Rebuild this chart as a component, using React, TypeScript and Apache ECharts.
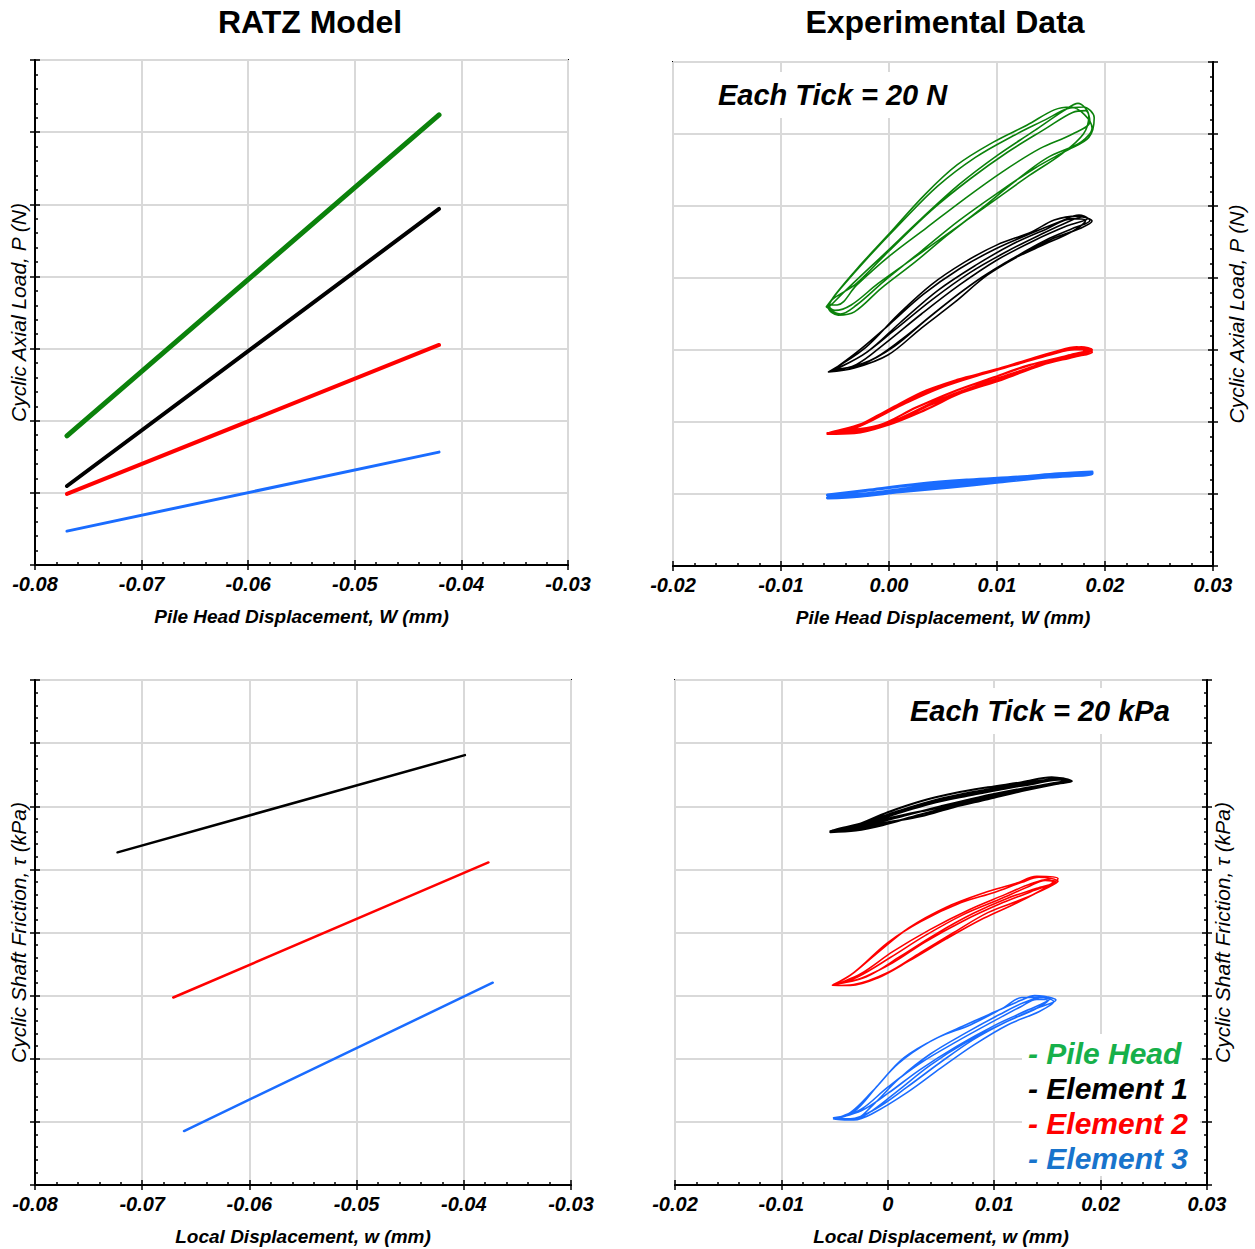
import React, { useEffect, useRef } from 'react';
import * as echarts from 'echarts';

const FONT = '"Liberation Sans", Arial, Helvetica, sans-serif';

// ---------- tick labels ----------
const modelXTicks = ['-0.08', '-0.07', '-0.06', '-0.05', '-0.04', '-0.03'];
const expHeadXTicks = ['-0.02', '-0.01', '0.00', '0.01', '0.02', '0.03'];
const expLocalXTicks = ['-0.02', '-0.01', '0', '0.01', '0.02', '0.03'];
const loadTicks = [0, 20, 40, 60, 80, 100, 120, 140]; // Each tick = 20 N
const frictionTicks = [0, 20, 40, 60, 80, 100, 120, 140, 160]; // Each tick = 20 kPa

// ---------- RATZ model (pile head displacement vs axial load) ----------
const ratzLoadPileHead = [[-0.0770, 35.8], [-0.0421, 124.8]];
const ratzLoadElement1 = [[-0.0770, 21.9], [-0.0421, 98.7]];
const ratzLoadElement2 = [[-0.0770, 19.7], [-0.0421, 61.0]];
const ratzLoadElement3 = [[-0.0770, 9.4], [-0.0421, 31.3]];

// ---------- RATZ model (local displacement vs shaft friction) ----------
const ratzShaftElement1 = [[-0.0723, 105.4], [-0.0399, 136.2]];
const ratzShaftElement2 = [[-0.0671, 59.4], [-0.0377, 102.2]];
const ratzShaftElement3 = [[-0.0661, 17.1], [-0.0373, 64.1]];

// ---------- Experimental (pile head displacement vs axial load), cycles ----------
const expLoadPileHead = [
  [[-0.0057, 71.9], [-0.0050, 75.3], [-0.0029, 82.8], [-0.0001, 91.9], [0.0033, 103.1], [0.0063, 111.4], [0.0097, 117.8], [0.0128, 122.5], [0.0153, 126.7], [0.0168, 127.5], [0.0188, 121.7], [0.0178, 117.8], [0.0146, 113.3], [0.0116, 106.7], [0.0086, 99.4], [0.0054, 91.9], [0.0024, 84.4], [-0.0007, 77.2], [-0.0032, 70.6], [-0.0047, 69.7], [-0.0056, 71.7]],
  [[-0.0052, 73.0], [-0.0035, 78.0], [-0.0005, 86.5], [0.0030, 96.5], [0.0065, 106.0], [0.0100, 114.0], [0.0135, 121.0], [0.0162, 126.5], [0.0175, 128.5], [0.0185, 125.0], [0.0180, 120.0], [0.0160, 114.5], [0.0130, 108.5], [0.0095, 101.0], [0.0060, 93.5], [0.0025, 86.0], [-0.0010, 78.5], [-0.0035, 72.5], [-0.0050, 71.0], [-0.0055, 72.0]],
  [[-0.0055, 72.5], [-0.0030, 78.5], [0.0000, 87.5], [0.0040, 99.0], [0.0075, 107.5], [0.0110, 115.0], [0.0145, 121.5], [0.0170, 126.0], [0.0182, 126.5], [0.0186, 123.5], [0.0170, 120.0], [0.0140, 116.0], [0.0105, 109.5], [0.0070, 102.0], [0.0035, 94.0], [0.0000, 86.0], [-0.0030, 78.0], [-0.0048, 72.5], [-0.0055, 72.5]],
  [[-0.0058, 72.0], [-0.0045, 77.0], [-0.0020, 85.5], [0.0010, 95.0], [0.0045, 105.5], [0.0080, 113.5], [0.0115, 119.5], [0.0145, 124.0], [0.0165, 127.0], [0.0180, 127.5], [0.0190, 124.5], [0.0185, 119.0], [0.0165, 115.5], [0.0135, 110.5], [0.0100, 103.5], [0.0065, 96.0], [0.0030, 87.5], [-0.0005, 79.0], [-0.0030, 72.5], [-0.0045, 70.0], [-0.0058, 72.0]],
];
const expLoadElement1 = [
  [[-0.0056, 53.9], [-0.0022, 60.6], [0.0008, 69.7], [0.0039, 78.1], [0.0070, 84.4], [0.0100, 89.2], [0.0132, 92.8], [0.0153, 96.1], [0.0174, 97.2], [0.0188, 95.8], [0.0178, 93.9], [0.0153, 91.1], [0.0122, 86.4], [0.0091, 80.8], [0.0061, 73.3], [0.0030, 66.1], [-0.0001, 58.6], [-0.0032, 55.0], [-0.0056, 53.9]],
  [[-0.0050, 54.5], [-0.0020, 59.5], [0.0010, 67.5], [0.0045, 76.5], [0.0080, 83.5], [0.0115, 89.5], [0.0145, 93.5], [0.0170, 96.5], [0.0182, 96.0], [0.0170, 93.0], [0.0140, 88.8], [0.0105, 83.8], [0.0070, 76.8], [0.0035, 68.5], [0.0005, 61.0], [-0.0025, 56.0], [-0.0050, 54.5]],
  [[-0.0055, 54.0], [-0.0025, 58.5], [0.0005, 65.5], [0.0040, 74.0], [0.0075, 81.5], [0.0110, 87.5], [0.0140, 92.0], [0.0165, 95.5], [0.0180, 97.0], [0.0186, 96.0], [0.0172, 94.0], [0.0145, 90.5], [0.0115, 85.5], [0.0080, 79.0], [0.0045, 71.0], [0.0012, 63.0], [-0.0018, 57.0], [-0.0055, 54.0]],
  [[-0.0053, 54.2], [-0.0028, 59.8], [0.0000, 67.0], [0.0032, 75.5], [0.0065, 82.5], [0.0098, 88.0], [0.0130, 92.2], [0.0158, 95.6], [0.0176, 97.5], [0.0184, 96.6], [0.0165, 94.5], [0.0135, 90.5], [0.0100, 85.0], [0.0065, 78.0], [0.0030, 70.0], [-0.0005, 61.5], [-0.0030, 56.0], [-0.0053, 54.2]],
];
const expLoadElement2 = [
  [[-0.0057, 36.9], [-0.0032, 38.3], [-0.0001, 42.8], [0.0030, 48.1], [0.0063, 51.7], [0.0097, 54.4], [0.0128, 57.2], [0.0153, 59.4], [0.0174, 60.8], [0.0188, 59.4], [0.0171, 58.1], [0.0141, 55.8], [0.0104, 51.7], [0.0067, 48.1], [0.0033, 43.3], [-0.0001, 39.2], [-0.0032, 36.9], [-0.0057, 36.7]],
  [[-0.0055, 37.0], [-0.0025, 39.5], [0.0005, 43.8], [0.0040, 48.8], [0.0075, 52.5], [0.0110, 55.5], [0.0140, 58.0], [0.0165, 60.2], [0.0182, 60.5], [0.0178, 59.0], [0.0150, 57.0], [0.0115, 53.5], [0.0080, 50.0], [0.0045, 46.0], [0.0010, 41.0], [-0.0020, 37.8], [-0.0055, 37.0]],
  [[-0.0050, 37.2], [-0.0020, 40.0], [0.0015, 45.2], [0.0050, 49.8], [0.0085, 53.2], [0.0120, 56.2], [0.0150, 58.8], [0.0172, 60.2], [0.0185, 60.0], [0.0165, 58.4], [0.0130, 55.8], [0.0095, 52.2], [0.0060, 48.5], [0.0025, 44.0], [-0.0010, 39.0], [-0.0050, 37.2]],
  [[-0.0056, 36.8], [-0.0030, 38.8], [0.0000, 43.5], [0.0035, 48.8], [0.0070, 52.2], [0.0105, 55.0], [0.0135, 57.8], [0.0160, 59.8], [0.0178, 60.8], [0.0188, 60.0], [0.0175, 58.5], [0.0145, 56.3], [0.0110, 52.8], [0.0075, 49.2], [0.0040, 45.0], [0.0005, 40.2], [-0.0028, 37.3], [-0.0056, 36.8]],
];
const expLoadElement3 = [
  [[-0.0057, 19.7], [-0.0018, 21.1], [0.0028, 22.8], [0.0074, 23.9], [0.0120, 24.7], [0.0157, 25.6], [0.0188, 26.1], [0.0188, 25.6], [0.0148, 24.7], [0.0102, 23.3], [0.0056, 21.9], [0.0010, 20.6], [-0.0027, 19.4], [-0.0057, 18.9]],
  [[-0.0055, 19.2], [-0.0015, 20.3], [0.0030, 22.0], [0.0075, 23.4], [0.0120, 24.5], [0.0160, 25.3], [0.0186, 25.8], [0.0150, 25.0], [0.0105, 23.8], [0.0060, 22.5], [0.0015, 21.0], [-0.0025, 19.9], [-0.0055, 19.2]],
];

// ---------- Experimental (local displacement vs shaft friction), cycles ----------
const expShaftElement1 = [
  [[-0.0054, 112.1], [-0.0032, 113.7], [0.0000, 118.1], [0.0031, 121.6], [0.0062, 124.1], [0.0094, 126.0], [0.0126, 127.6], [0.0154, 129.2], [0.0173, 127.9], [0.0157, 127.0], [0.0126, 124.8], [0.0094, 122.2], [0.0062, 119.7], [0.0031, 116.8], [0.0000, 114.9], [-0.0032, 112.7], [-0.0054, 112.1]],
  [[-0.0050, 112.5], [-0.0020, 115.0], [0.0010, 118.5], [0.0045, 122.0], [0.0080, 124.5], [0.0115, 126.5], [0.0145, 128.2], [0.0165, 128.8], [0.0170, 128.0], [0.0145, 126.5], [0.0110, 124.0], [0.0075, 121.5], [0.0040, 119.0], [0.0005, 116.5], [-0.0025, 114.0], [-0.0050, 112.5]],
  [[-0.0052, 112.3], [-0.0025, 114.3], [0.0005, 117.3], [0.0040, 120.8], [0.0075, 123.3], [0.0110, 125.5], [0.0140, 127.5], [0.0160, 128.8], [0.0168, 128.3], [0.0150, 127.0], [0.0120, 125.2], [0.0085, 122.8], [0.0050, 120.0], [0.0015, 117.0], [-0.0020, 114.0], [-0.0052, 112.3]],
  [[-0.0054, 111.8], [-0.0030, 113.0], [0.0000, 116.8], [0.0035, 120.5], [0.0070, 123.3], [0.0105, 125.4], [0.0135, 127.0], [0.0160, 128.4], [0.0172, 128.2], [0.0160, 127.3], [0.0130, 125.5], [0.0100, 123.0], [0.0065, 120.3], [0.0030, 117.3], [-0.0005, 114.0], [-0.0030, 112.3], [-0.0054, 111.8]],
];
const expShaftElement2 = [
  [[-0.0051, 63.5], [-0.0032, 67.3], [0.0000, 76.8], [0.0031, 83.5], [0.0069, 89.5], [0.0100, 92.7], [0.0126, 95.9], [0.0142, 97.5], [0.0160, 96.2], [0.0151, 94.3], [0.0126, 90.5], [0.0094, 86.3], [0.0062, 80.0], [0.0031, 73.7], [0.0000, 67.3], [-0.0032, 63.5], [-0.0051, 63.2]],
  [[-0.0048, 63.6], [-0.0025, 67.0], [0.0005, 74.0], [0.0040, 81.0], [0.0075, 87.0], [0.0110, 92.0], [0.0135, 95.5], [0.0150, 96.8], [0.0155, 96.0], [0.0135, 93.0], [0.0105, 89.0], [0.0070, 83.5], [0.0035, 77.0], [0.0005, 70.5], [-0.0025, 65.5], [-0.0048, 63.6]],
  [[-0.0050, 63.4], [-0.0028, 66.0], [0.0002, 72.0], [0.0035, 79.0], [0.0070, 85.5], [0.0105, 90.5], [0.0132, 94.5], [0.0148, 96.5], [0.0158, 96.0], [0.0140, 94.0], [0.0112, 90.8], [0.0080, 86.0], [0.0045, 79.5], [0.0012, 72.5], [-0.0020, 66.0], [-0.0050, 63.4]],
  [[-0.0052, 63.3], [-0.0035, 66.5], [-0.0010, 73.5], [0.0020, 81.5], [0.0055, 88.0], [0.0090, 92.5], [0.0120, 95.5], [0.0140, 97.8], [0.0160, 97.0], [0.0150, 94.5], [0.0122, 89.5], [0.0090, 84.5], [0.0055, 78.0], [0.0020, 71.0], [-0.0010, 65.5], [-0.0035, 63.2], [-0.0052, 63.3]],
];
const expShaftElement3 = [
  [[-0.0051, 21.3], [-0.0032, 23.2], [-0.0009, 31.7], [0.0015, 40.3], [0.0047, 46.7], [0.0078, 50.8], [0.0109, 56.2], [0.0126, 59.4], [0.0142, 59.4], [0.0156, 58.1], [0.0142, 54.9], [0.0113, 50.8], [0.0081, 44.4], [0.0050, 37.1], [0.0019, 29.5], [-0.0013, 22.9], [-0.0032, 20.6], [-0.0051, 20.9]],
  [[-0.0048, 21.0], [-0.0025, 24.0], [0.0000, 31.0], [0.0030, 38.5], [0.0065, 45.5], [0.0100, 52.0], [0.0125, 56.5], [0.0140, 58.8], [0.0150, 58.5], [0.0132, 55.5], [0.0100, 50.5], [0.0065, 44.0], [0.0030, 36.5], [0.0000, 29.0], [-0.0025, 23.5], [-0.0048, 21.0]],
  [[-0.0032, 20.8], [-0.0015, 25.0], [0.0010, 33.5], [0.0040, 41.5], [0.0075, 48.5], [0.0105, 54.0], [0.0128, 57.8], [0.0148, 59.6], [0.0158, 58.6], [0.0140, 56.0], [0.0110, 51.5], [0.0075, 45.5], [0.0040, 38.0], [0.0010, 30.0], [-0.0015, 23.5], [-0.0032, 20.8]],
  [[-0.0050, 21.0], [-0.0035, 23.0], [-0.0015, 29.5], [0.0010, 38.5], [0.0040, 45.5], [0.0075, 51.0], [0.0105, 55.5], [0.0125, 58.5], [0.0138, 60.0], [0.0152, 59.0], [0.0140, 56.0], [0.0110, 51.5], [0.0080, 46.0], [0.0048, 38.5], [0.0018, 31.0], [-0.0012, 24.0], [-0.0035, 21.0], [-0.0050, 21.0]],
];

const legendItems = ['- Pile Head', '- Element 1', '- Element 2', '- Element 3'];

const GREEN = '#0b820b';
const BLACK = '#000000';
const RED = '#ff0000';
const BLUE = '#1a6cff';
const LEGEND_COLORS = ['#16b04a', '#000000', '#ff0000', '#1874cc'];

const grids = [
  { left: 35, top: 60, width: 533, height: 505 },
  { left: 673, top: 62, width: 540, height: 504 },
  { left: 35, top: 680, width: 536, height: 505 },
  { left: 675, top: 680, width: 532, height: 505 },
];

const flat = (cycles: number[][][]) => cycles.reduce((acc, c) => acc.concat(c), [] as number[][]);

function xAxes(gridIndex: number, labels: string[], name: string) {
  const min = parseFloat(labels[0]);
  const max = parseFloat(labels[labels.length - 1]);
  const main = {
    type: 'value', gridIndex, min, max, interval: 0.01, position: 'bottom',
    axisLine: { show: true, onZero: false, lineStyle: { color: '#000', width: 2 } },
    axisTick: { show: true, inside: true, length: 5, lineStyle: { color: '#000', width: 1.5 } },
    minorTick: { show: true, splitNumber: 5, length: 3, lineStyle: { color: '#000', width: 1.5 } },
    splitLine: { show: true, lineStyle: { color: '#d9d9d9', width: 2 } },
    axisLabel: {
      formatter: (_v: number, i: number) => labels[i],
      margin: 9, color: '#000', fontFamily: FONT, fontSize: 20, fontWeight: 'bold', fontStyle: 'italic',
    },
    name, nameLocation: 'middle', nameGap: 42,
    nameTextStyle: { color: '#000', fontFamily: FONT, fontSize: 19, fontWeight: 'bold', fontStyle: 'italic' },
  };
  const over = {
    type: 'value', gridIndex, min, max, interval: 0.01, position: 'bottom',
    axisLine: { show: false, onZero: false },
    axisTick: { show: true, inside: false, length: 5, lineStyle: { color: '#000', width: 1.5 } },
    axisLabel: { show: false }, splitLine: { show: false },
  };
  return [main, over];
}

function yAxes(gridIndex: number, ticks: number[], position: string, name: string, nameGap: number) {
  const min = ticks[0];
  const max = ticks[ticks.length - 1];
  const main = {
    type: 'value', gridIndex, min, max, interval: ticks[1] - ticks[0], position,
    axisLine: { show: true, onZero: false, lineStyle: { color: '#000', width: 2 } },
    axisTick: { show: true, inside: true, length: 5, lineStyle: { color: '#000', width: 1.5 } },
    minorTick: { show: true, splitNumber: 5, length: 3, lineStyle: { color: '#000', width: 1.5 } },
    splitLine: { show: true, lineStyle: { color: '#d9d9d9', width: 2 } },
    axisLabel: { show: false },
    name, nameLocation: 'middle', nameGap, nameRotate: 90,
    nameTextStyle: { color: '#000', fontFamily: FONT, fontSize: 21, fontStyle: 'italic' },
  };
  const over = {
    type: 'value', gridIndex, min, max, interval: ticks[1] - ticks[0], position,
    axisLine: { show: false, onZero: false },
    axisTick: { show: true, inside: false, length: 5, lineStyle: { color: '#000', width: 1.5 } },
    axisLabel: { show: false }, splitLine: { show: false },
  };
  return [main, over];
}

function line(idx: number, data: number[][], color: string, width: number, smooth: number | boolean) {
  return {
    type: 'line', xAxisIndex: idx, yAxisIndex: idx, data, showSymbol: false, symbol: 'none',
    smooth, silent: true, lineStyle: { color, width, cap: 'round', join: 'round' },
  };
}

export default function App() {
  const ref = useRef<HTMLDivElement>(null);
  useEffect(() => {
    if (!ref.current) return;
    const chart = echarts.init(ref.current, null, { renderer: 'svg' });
    const xs = [
      xAxes(0, modelXTicks, 'Pile Head Displacement, W (mm)'),
      xAxes(1, expHeadXTicks, 'Pile Head Displacement, W (mm)'),
      xAxes(2, modelXTicks, 'Local Displacement, w (mm)'),
      xAxes(3, expLocalXTicks, 'Local Displacement, w (mm)'),
    ];
    const ys = [
      yAxes(0, loadTicks, 'left', 'Cyclic Axial Load, P (N)', 6),
      yAxes(1, loadTicks, 'right', 'Cyclic Axial Load, P (N)', 13),
      yAxes(2, frictionTicks, 'left', 'Cyclic Shaft Friction, \u03c4 (kPa)', 6),
      yAxes(3, frictionTicks, 'right', 'Cyclic Shaft Friction, \u03c4 (kPa)', 5),
    ];
    const legendText = legendItems.map((t, i) => ({
      type: 'text', left: 1028, top: 1038 + i * 35, z: 101,
      style: { text: t, fill: LEGEND_COLORS[i], font: `italic bold 30px ${FONT}` },
    }));
    chart.setOption({
      animation: false,
      backgroundColor: '#ffffff',
      grid: grids.map((g) => ({ ...g, show: true, borderColor: '#000', borderWidth: 2, backgroundColor: 'transparent' })),
      xAxis: [...xs.map((a) => a[0]), ...xs.map((a) => a[1])],
      yAxis: [...ys.map((a) => a[0]), ...ys.map((a) => a[1])],
      series: [
        line(0, ratzLoadPileHead, GREEN, 5, false),
        line(0, ratzLoadElement1, BLACK, 4, false),
        line(0, ratzLoadElement2, RED, 4, false),
        line(0, ratzLoadElement3, BLUE, 3, false),
        line(1, flat(expLoadPileHead), GREEN, 1.6, 0.35),
        line(1, flat(expLoadElement1), BLACK, 1.6, 0.35),
        line(1, flat(expLoadElement2), RED, 2.2, 0.35),
        line(1, flat(expLoadElement3), BLUE, 3, 0.35),
        line(2, ratzShaftElement1, BLACK, 2.5, false),
        line(2, ratzShaftElement2, RED, 2.5, false),
        line(2, ratzShaftElement3, BLUE, 2.5, false),
        line(3, flat(expShaftElement1), BLACK, 2, 0.35),
        line(3, flat(expShaftElement2), RED, 1.6, 0.35),
        line(3, flat(expShaftElement3), BLUE, 1.6, 0.35),
      ],
      graphic: [
        { type: 'text', x: 310, y: 22, z: 100, style: { text: 'RATZ Model', fill: '#000', font: `bold 32px ${FONT}`, textAlign: 'center', textVerticalAlign: 'middle' } },
        { type: 'text', x: 945, y: 22, z: 100, style: { text: 'Experimental Data', fill: '#000', font: `bold 32px ${FONT}`, textAlign: 'center', textVerticalAlign: 'middle' } },
        { type: 'rect', shape: { x: 705, y: 72, width: 262, height: 46 }, z: 100, style: { fill: '#fff' } },
        { type: 'text', x: 718, y: 95, z: 101, style: { text: 'Each Tick = 20 N', fill: '#000', font: `italic bold 29px ${FONT}`, textAlign: 'left', textVerticalAlign: 'middle' } },
        { type: 'rect', shape: { x: 900, y: 688, width: 285, height: 46 }, z: 100, style: { fill: '#fff' } },
        { type: 'text', x: 910, y: 711, z: 101, style: { text: 'Each Tick = 20 kPa', fill: '#000', font: `italic bold 29px ${FONT}`, textAlign: 'left', textVerticalAlign: 'middle' } },
        { type: 'rect', shape: { x: 1022, y: 1034, width: 178, height: 142 }, z: 100, style: { fill: '#fff' } },
        ...legendText,
      ],
    });
    return () => chart.dispose();
  }, []);
  return <div ref={ref} style={{ position: 'absolute', left: 0, top: 0, width: 1255, height: 1249, background: '#fff' }} />;
}
